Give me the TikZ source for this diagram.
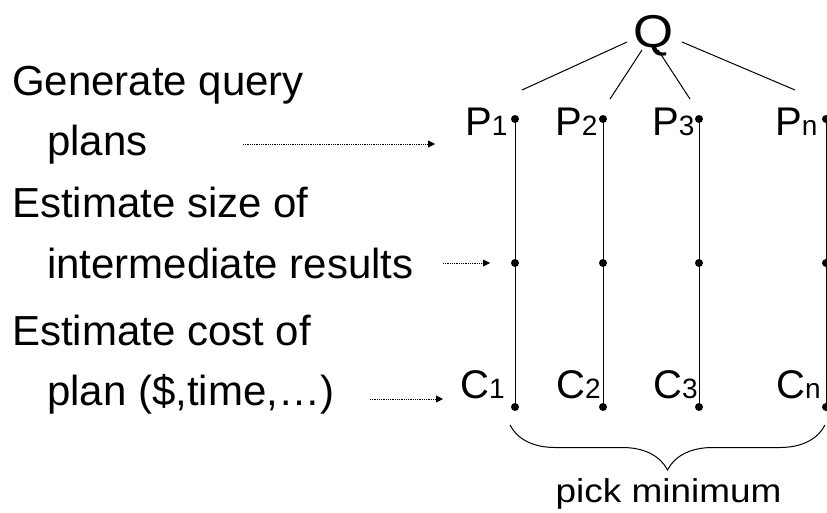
\documentclass[tikz,border=0pt]{standalone}
\usepackage{fontspec}
\setmainfont{Liberation Sans}
\usetikzlibrary{arrows.meta,decorations.pathreplacing}
\begin{document}
\begin{tikzpicture}[x=1pt,y=-1pt,
  lefttext/.style={anchor=base west,inner sep=0pt,font=\fontsize{42}{42}\selectfont},
  lbl/.style={anchor=base west,inner sep=0pt,font=\fontsize{40}{40}\selectfont},
  vline/.style={line width=1pt},
  dotmark/.style={circle,fill=black,inner sep=0pt,minimum size=8pt},
  ptr/.style={line width=0.9pt,dash pattern=on 0.9pt off 0.9pt,-{Triangle[length=7pt,width=7pt]}},
  qline/.style={line width=1pt}]
\useasboundingbox (0,0) rectangle (827,512);
\newcommand{\sbs}[1]{{\fontsize{28}{28}\selectfont #1}}
% left texts
\node[lefttext] (g1) at (12,95) {Generate query};
\node[lefttext] (g2) at (47,155) {plans};
\node[lefttext] (s1) at (12,217) {Estimate size of};
\node[lefttext] (s2) at (47,278) {intermediate results};
\node[lefttext] (c1t) at (12,345) {Estimate cost of};
\node[lefttext] (c2t) at (47,405) {plan (\$,time,\dots)};
% Q
\node[anchor=base,inner sep=0pt,font=\fontsize{46}{46}\selectfont,xscale=1.12] (Q) at (653.5,47) {Q};
% P labels
\node[lbl] (P1) at (465,135) {P\sbs{1}};
\node[lbl] (P2) at (555,135) {P\sbs{2}};
\node[lbl] (P3) at (652,135) {P\sbs{3}};
\node[lbl] (Pn) at (775,135) {P\sbs{n}};
% C labels
\node[lbl] (C1) at (460,398) {C\sbs{1}};
\node[lbl] (C2) at (556,398) {C\sbs{2}};
\node[lbl] (C3) at (653,398) {C\sbs{3}};
\node[lbl] (Cn) at (776,398) {C\sbs{n}};
% dots
\foreach \i/\x in {1/515,2/603,3/699,4/826}{
  \node[dotmark] (t\i) at (\x,119) {};
  \node[dotmark] (m\i) at (\x,263) {};
  \node[dotmark] (b\i) at (\x,407) {};
  \draw[vline] (t\i.center) -- (b\i.center);
}
% Q lines
\coordinate (qa) at (627,42); \coordinate (pa) at (522,90);
\coordinate (qb) at (642,50); \coordinate (pb) at (610,99);
\coordinate (qc) at (658,50); \coordinate (pc) at (690,99);
\coordinate (qd) at (682,42); \coordinate (pd) at (795,90);
\draw[qline] (qa) -- (pa);
\draw[qline] (qb) -- (pb);
\draw[qline] (qc) -- (pc);
\draw[qline] (qd) -- (pd);
% dotted arrows
\coordinate (a1s) at (243,144); \coordinate (a1e) at (435,144);
\coordinate (a2s) at (443,263); \coordinate (a2e) at (490,263);
\coordinate (a3s) at (370,399); \coordinate (a3e) at (443,399);
\draw[ptr] (a1s) -- (a1e);
\draw[ptr] (a2s) -- (a2e);
\draw[ptr] (a3s) -- (a3e);
% brace
\coordinate (brr) at (825,425); \coordinate (brl) at (510,425);
\draw[line width=1pt,decorate,decoration={brace,amplitude=45pt}] (brr) -- (brl);
\node[anchor=base,inner sep=0pt,font=\fontsize{33}{33}\selectfont,xscale=1.12] (pm) at (668.5,502) {pick minimum};
\end{tikzpicture}
\end{document}
